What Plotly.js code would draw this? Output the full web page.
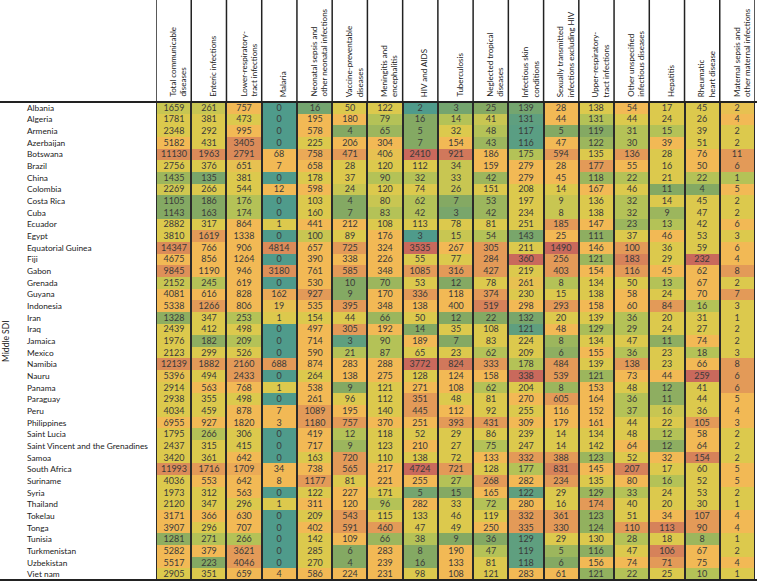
<!DOCTYPE html>
<html><head><meta charset="utf-8">
<script src="https://cdn.plot.ly/plotly-3.0.1.min.js"></script>
<style>html,body{margin:0;padding:0;background:#fff}#chart{width:757px;height:582px}</style>
</head><body><div id="chart"></div>
<script>
const headers = [
  "Total communicable<br>diseases","Enteric infections","Lower-respiratory-<br>tract infections","Malaria",
  "Neonatal sepsis and<br>other neonatal infections","Vaccine-preventable<br>diseases","Meningitis and<br>encephalitis",
  "HIV and AIDS","Tuberculosis","Neglected tropical<br>diseases","Infectious skin<br>conditions",
  "Sexually transmitted<br>infections excluding HIV","Upper-respiratory-<br>tract infections",
  "Other unspecified<br>infectious diseases","Hepatitis","Rheumatic<br>heart disease",
  "Maternal sepsis and<br>other maternal infections"
];
const countries = ["Albania","Algeria","Armenia","Azerbaijan","Botswana","Brazil","China","Colombia","Costa Rica","Cuba",
  "Ecuador","Egypt","Equatorial Guinea","Fiji","Gabon","Grenada","Guyana","Indonesia","Iran","Iraq","Jamaica","Mexico",
  "Namibia","Nauru","Panama","Paraguay","Peru","Philippines","Saint Lucia","Saint Vincent and the Grenadines","Samoa",
  "South Africa","Suriname","Syria","Thailand","Tokelau","Tonga","Tunisia","Turkmenistan","Uzbekistan","Viet nam"];
const groupLabel = "Middle SDI";
const values = [
[1659,261,757,0,16,50,122,2,3,25,139,28,138,54,17,45,2],
[1781,381,473,0,195,180,79,16,14,41,131,44,131,44,24,26,4],
[2348,292,995,0,578,4,65,5,32,48,117,5,119,31,15,39,2],
[5182,431,3405,0,225,206,304,7,154,43,116,47,122,30,39,51,2],
[11130,1963,2791,68,758,471,406,2410,921,186,175,594,135,136,28,76,11],
[2756,376,651,7,658,28,120,112,34,159,279,28,177,55,16,50,6],
[1435,135,381,0,178,37,90,32,33,42,279,45,118,22,21,22,1],
[2269,266,544,12,598,24,120,74,26,151,208,14,167,46,11,4,5],
[1105,186,176,0,103,4,80,62,7,53,197,9,136,32,14,45,2],
[1143,163,174,0,160,7,83,42,3,42,234,8,138,32,9,47,2],
[2882,317,864,1,441,212,108,113,78,81,251,185,147,23,13,42,6],
[3810,1619,1338,0,100,89,176,3,15,54,143,25,111,37,46,53,3],
[14347,766,906,4814,657,725,324,3535,267,305,211,1490,146,100,36,59,6],
[4675,856,1264,0,390,338,226,55,77,284,360,256,121,183,29,232,4],
[9845,1190,946,3180,761,585,348,1085,316,427,219,403,154,116,45,62,8],
[2152,245,619,0,530,10,70,53,12,78,261,8,134,50,13,67,2],
[4081,616,828,162,927,9,170,336,118,374,230,15,138,58,24,70,7],
[5338,1266,806,19,535,395,348,138,400,519,298,293,158,60,84,16,3],
[1328,347,253,1,154,44,66,50,12,22,132,20,139,36,20,31,1],
[2439,412,498,0,497,305,192,14,35,108,121,48,129,29,24,27,2],
[1976,182,209,0,714,3,90,189,7,83,224,8,134,47,11,74,2],
[2123,299,526,0,590,21,87,65,23,62,209,6,155,36,23,18,3],
[12139,1882,2160,688,874,283,288,3772,824,333,178,484,139,138,23,66,8],
[5396,494,2433,0,264,138,275,128,124,158,338,539,121,73,44,259,6],
[2914,563,768,1,538,9,121,271,108,62,204,8,153,48,12,41,6],
[2938,355,498,0,261,96,112,351,48,81,270,605,164,36,11,44,5],
[4034,459,878,7,1089,195,140,445,112,92,255,116,152,37,16,36,4],
[6955,927,1820,3,1180,757,370,251,393,431,309,179,161,44,22,105,3],
[1795,266,306,0,419,12,118,52,29,86,239,14,134,48,12,58,2],
[2437,315,415,0,717,9,123,210,27,75,247,14,142,64,12,64,2],
[3420,361,642,0,163,720,110,138,72,133,332,388,123,52,32,154,2],
[11993,1716,1709,34,738,565,217,4724,721,128,177,831,145,207,17,60,5],
[4036,553,642,8,1177,81,221,255,27,268,282,234,135,80,16,52,5],
[1973,312,563,0,122,227,171,5,15,165,122,29,129,33,24,53,2],
[2120,347,296,1,311,120,96,282,33,72,280,16,174,40,20,30,1],
[3171,366,630,0,209,543,115,133,46,119,332,361,123,51,34,107,4],
[3907,296,707,0,402,591,460,47,49,250,335,330,124,110,113,90,4],
[1281,271,266,0,142,109,66,38,9,36,129,29,130,28,18,8,1],
[5282,379,3621,0,285,6,283,8,190,47,119,5,116,47,106,67,2],
[5517,223,4046,0,270,4,239,16,133,81,118,6,156,74,71,75,4],
[2905,351,659,4,586,224,231,98,108,121,283,61,121,22,25,10,1]
];
// colour level of each cell (0 = far below expected ... 6 = far above)
const levels = [
[2.5,2.5,4,0,0.7,3,3,0,0.7,1,0.7,4,3,4,3,3,3.5],
[3,3,3,0,4,4,2,1,2,2.5,0.3,4,2,3,3,3,4],
[3,3,4,0,4,1,1.5,1,3,2,0.2,1,1,2,2,3,3],
[4,3,5.3,0,3,4,4,1,4,1.5,0.2,4,1.5,2,4,3,3],
[5.3,5.3,5.3,4,4.5,5,3.5,6,5.7,4,2,5,3,5,3,4,5],
[3,3,3.5,4,4,3,3,3,2.5,4,4,4,5,4,3,4,5],
[1.5,0.8,3,0,3,3,2,2,2.5,1.5,4,4,1.5,2,3,2,2],
[2.7,3,3,4,4,2.5,3,3,2.5,3,3,3,4,3,1,1,4],
[1,1,2,0,3,1,2.5,2,1,1.5,3,2.5,3,2,3,3,3],
[1,1,2,0,3,1,2,2,0.8,1.5,3,2.5,3,2,1.5,3,3],
[3,3,4,3,4,4,3,3,3,3,3,5,4,1.5,2,3,4],
[3,5,4,0,2.5,3,4,0,2.5,2,0.8,4,1.2,3,4,3,3],
[5.3,4,4,5.3,4,5,4,6,4,5,3,6,4,5,3,3,4],
[4,4,4,0,4,4,4,3,3,5,6,5,1.5,5.5,3,6,4],
[5.2,4,4,5.2,4,5,4,5,5,5,3,5,4,5,4,4,5],
[2.5,2,4,0,4,1,1.5,3,1,3,3.5,2,3,3,2,4,3],
[4,4,4,4.5,5,1,4,5,4,5,3,3,3,4,3,4,5],
[4,5,4,3.5,4,5,4,4,4,5.5,4,5,4,4,5,2,3],
[1.2,3,2,3,3,3,1.5,3,1,1,0.8,3,3,2,3,3,3],
[3,3,3,0,4,5,4,1,3,3,0.3,4,1.8,2,3,3,3],
[3,1.2,2,0,4,0.3,2,4,1,3,3,1.5,3,3,1.2,4,3],
[3,3,3,0,4,2,2,3,3,2,3,1.2,4,2,3,2,3],
[5.3,5,5,5,4,4,4,6,5.7,5,2,5,3,5,3,4,5],
[3.5,3,5,0,3,4,4,3,4,4,6,5,1.5,4,4,6,5],
[3,4,4,3,4,1,3,4,4,2,3,1.5,4,3,1.2,3,5],
[3,3,3,0,4,3,3,5,3,3,4,5,4,2,1.2,3,4],
[3,3,4,4,5,4,3,5,4,3,3,4,4,2,2.5,3,4],
[4,4,4,4,5,5,4,4,5,5,4,4,4,3,3,5,4],
[3,2,3,0,4,2,3,3,3,3,3,3,3,3,2,4,3],
[3,3,3,0,4,1.5,3,4,3,2,3,3,3,4,1.2,4,3],
[3,3,4,0,3,5,3,3,3,4,5,5,1.5,3,4,5.5,3],
[5.3,5,4.5,4,4,5,4,6,5,3,2,5.5,4,5.5,3,3,4],
[3,4,4,4,5,3,4,4,2,5,4,5,3,4,2,3,4],
[3,3,4,0,3,4,3,0.7,1,4,0.3,3,1.5,2,3,3,3],
[3,3,3,3,4,4,2,4,3,2,4,3,5,3,3,3,3],
[4,4,4,0,3,5,3,3,3,3,5,5,1.3,3,4,5,4],
[4,3,4,0,4,5,5,3,3,4,5,5,1.3,5,5.5,5,4],
[1.2,2,2,0,3,4,1.5,2,1,1,0.3,3,3,2,3,1.5,3],
[4,4,5,0,3,1,4,1,4,2,0.3,1.5,1.2,3,5.5,4,3],
[4,1,5,0,3,1,4,1,4,3,0.3,1,4,4,5,4,4],
[3,3,4,4,4,4,4,3,4,3,4,4,1.3,2,3,2,3]
];

const W = 757, H = 582, L = 156, R = 2, T = 102, B = 2;
const pw = W - L - R, ph = H - T - B;
const FONT = "Lato, 'Open Sans', sans-serif";
const xIdx = headers.map((_, i) => i);
const yIdx = countries.map((_, i) => i);

const trace = {
  type: 'heatmap',
  x: xIdx, y: yIdx, z: levels, text: values,
  texttemplate: '%{text}',
  textfont: {family: FONT, size: 9, color: '#3a3a3a'},
  zmin: 0, zmax: 6,
  colorscale: [[0,'#4f9b8b'],[1/6,'#84a963'],[2/6,'#b4c257'],[3/6,'#dcc94d'],[4/6,'#f2b955'],[5/6,'#e39a58'],[1,'#c9695c']],
  showscale: false, xgap: 2, ygap: 0, hoverinfo: 'skip'
};

const annotations = [];
countries.forEach((c, i) => annotations.push({
  text: c, xref: 'paper', yref: 'y', x: (25 - L) / pw, y: i, xanchor: 'left', yanchor: 'middle',
  showarrow: false, font: {family: FONT, size: 8.3, color: '#222'}
}));
headers.forEach((h, i) => annotations.push({
  text: h, xref: 'x', yref: 'paper', x: i, y: 1, xanchor: 'center', yanchor: 'bottom', yshift: 3, xshift: 4,
  textangle: -90, align: 'left', showarrow: false, font: {family: FONT, size: 8, color: '#222'}
}));
annotations.push({
  text: groupLabel, xref: 'paper', yref: 'paper', x: (6 - L) / pw, y: 0.5, xanchor: 'center', yanchor: 'middle',
  textangle: -90, showarrow: false, font: {family: FONT, size: 8.5, color: '#222'}
});

const shapes = [];
for (let i = 0; i <= headers.length; i++) {
  shapes.push({type: 'line', xref: 'x', yref: 'paper', x0: i - 0.5, x1: i - 0.5, y0: 1, y1: 1 + T / ph,
    line: {color: '#222', width: 1.5}});
}
shapes.push({type: 'line', xref: 'paper', yref: 'paper', x0: -L / pw, x1: 1 + R / pw, y0: 1, y1: 1, line: {color: '#222', width: 2}});
shapes.push({type: 'line', xref: 'paper', yref: 'paper', x0: -L / pw, x1: 1 + R / pw, y0: 0, y1: 0, line: {color: '#222', width: 2}});

const layout = {
  width: W, height: H,
  margin: {l: L, r: R, t: T, b: B, pad: 0},
  paper_bgcolor: '#fff', plot_bgcolor: '#2a2a2a',
  xaxis: {range: [-0.5, headers.length - 0.5], showticklabels: false, showgrid: false, zeroline: false, ticks: '', fixedrange: true},
  yaxis: {range: [countries.length - 0.5, -0.5], showticklabels: false, showgrid: false, zeroline: false, ticks: '', fixedrange: true},
  annotations, shapes, showlegend: false
};
Plotly.newPlot('chart', [trace], layout, {displayModeBar: false, staticPlot: true});
</script></body></html>
